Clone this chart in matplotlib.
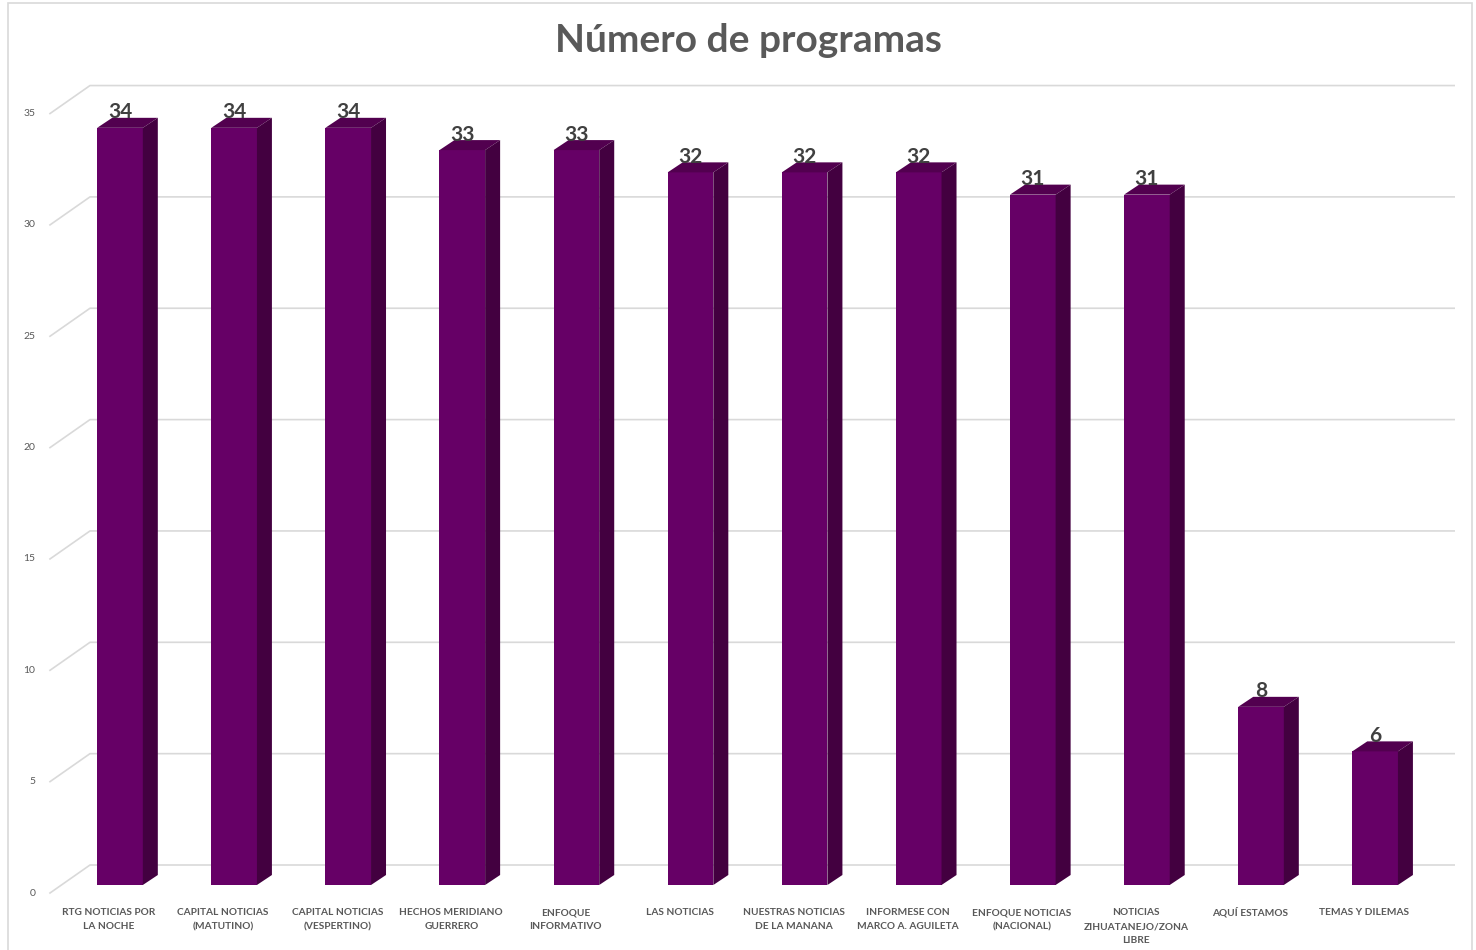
import matplotlib
matplotlib.use("Agg")
import matplotlib.pyplot as plt
from matplotlib.patches import Polygon, Rectangle

# data
programas = [
    "RTG NOTICIAS POR\nLA NOCHE",
    "CAPITAL NOTICIAS\n(MATUTINO)",
    "CAPITAL NOTICIAS\n(VESPERTINO)",
    "HECHOS MERIDIANO\nGUERRERO",
    "ENFOQUE\nINFORMATIVO",
    "LAS NOTICIAS",
    "NUESTRAS NOTICIAS\nDE LA MANANA",
    "INFORMESE CON\nMARCO A. AGUILETA",
    "ENFOQUE NOTICIAS\n(NACIONAL)",
    "NOTICIAS\nZIHUATANEJO/ZONA\nLIBRE",
    "AQUÍ ESTAMOS",
    "TEMAS Y DILEMAS",
]
numero = [34, 34, 34, 33, 33, 32, 32, 32, 31, 31, 8, 6]
y_ticks = [0, 5, 10, 15, 20, 25, 30, 35]

FRONT = "#660066"
TOP = "#52004f"
SIDE = "#430040"
GRID = "#d9d9d9"
TEXT = "#595959"

W, H = 1476, 950
px_x = 114.1   # pixels per category
px_y = 22.27   # pixels per unit

fig = plt.figure(figsize=(W / 100, H / 100), dpi=100)
xlim = (-0.7, 11.7)
ylim = (-1.5, 38.5)
left_px = 120 + xlim[0] * px_x
right_px = 120 + xlim[1] * px_x
top_px = 885 - ylim[1] * px_y
bot_px = 885 - ylim[0] * px_y
ax = fig.add_axes([left_px / W, 1 - bot_px / H,
                   (right_px - left_px) / W, (bot_px - top_px) / H])
ax.set_xlim(*xlim)
ax.set_ylim(*ylim)
ax.axis("off")

# 3d offsets (in data units)
bw = 0.4
bdx, bdy = 15 / px_x, 10 / px_y          # bar depth
fdx, fdy = -11 / px_x, -8 / px_y         # front edge of floor
kdx, kdy = 29 / px_x, 20 / px_y          # back wall
x_wall = (50 - 120) / px_x - fdx
x_end = (1460 - 120) / px_x
line_h = 14 / px_y

for v in y_ticks:
    ax.plot([x_wall + fdx, x_wall + kdx, x_end],
            [v + fdy, v + kdy, v + kdy], color=GRID, lw=1.2, zorder=1)
    ax.text(x_wall + fdx - 0.13, v + fdy, str(v), ha="right", va="center",
            fontsize=7.5, color=TEXT, family="Lato")

for i, v in enumerate(numero):
    x0 = i - bw / 2
    ax.add_patch(Rectangle((x0, 0), bw, v, facecolor=FRONT, edgecolor="none", zorder=3))
    ax.add_patch(Polygon([(x0, v), (x0 + bw, v), (x0 + bw + bdx, v + bdy), (x0 + bdx, v + bdy)],
                         closed=True, facecolor=TOP, edgecolor="none", zorder=3))
    ax.add_patch(Polygon([(x0 + bw, 0), (x0 + bw + bdx, bdy), (x0 + bw + bdx, v + bdy), (x0 + bw, v)],
                         closed=True, facecolor=SIDE, edgecolor="none", zorder=3))
    ax.text(i, v + bdy - 0.2, str(v), ha="center", va="bottom", fontsize=15,
            fontweight="bold", color="#404040", family="Lato", zorder=4)
    for k, line in enumerate(programas[i].split("\n")):
        ax.text(i + fdx, fdy - 1.0 - k * line_h, line, ha="center", va="baseline",
                fontsize=7.3, fontweight="bold", color=TEXT, family="Lato")

fig.text(748 / W, 1 - 41 / H, "Número de programas", ha="center", va="center",
         fontsize=28, fontweight="bold", color=TEXT, family="Lato")

# chart border
fig.add_artist(Rectangle((8 / W, -0.01), (1472 - 8) / W, 1 - 3 / H + 0.01,
                         transform=fig.transFigure, fill=False, edgecolor="#d9d9d9", lw=1.2))

fig.savefig("out.png", dpi=100)
